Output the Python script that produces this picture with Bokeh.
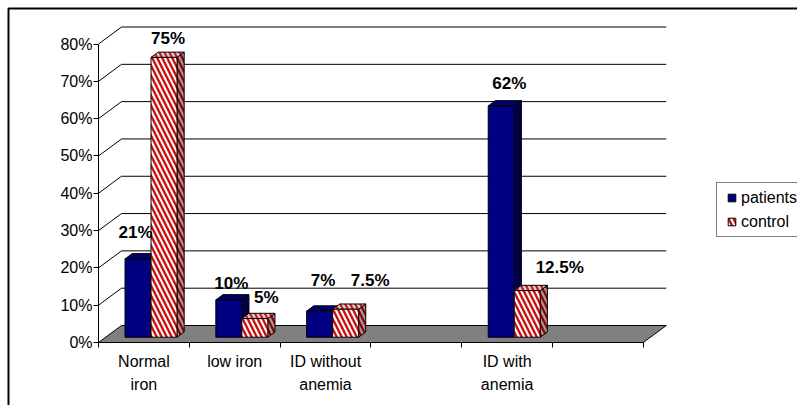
import numpy as np
from bokeh.plotting import figure
from bokeh.models import (Range1d, LinearAxis, FixedTicker, PrintfTickFormatter,
                          ColumnDataSource, Legend, LegendItem)
from bokeh.core.properties import value
from bokeh.embed import file_html
from bokeh.resources import INLINE

# ---- data -------------------------------------------------------------
categories = ["Normal\niron", "low iron", "ID without\nanemia", "", "ID with\nanemia", ""]
patients = [21, 10, 7, None, 62, None]
control = [75, 5, 7.5, None, 12.5, None]
series_names = ["patients", "control"]
y_ticks = [0, 10, 20, 30, 40, 50, 60, 70, 80]

# label nudges in screen pixels (dx, dy), one per bar
patients_nudge = [(-2.5, -26.7), (2.5, -16.4), (3.5, -30.6), None, (8, -22), None]
control_nudge = [(4, -19), (11.5, -21.3), (24.5, -28.7), None, (32.5, -23.3), None]

# ---- geometry (screen scale) -----------------------------------------
W, H = 797, 405
X0_PX, Y0_PX = 98.0, 342.0        # front-left corner of the floor
CAT_PX, PCT_PX = 90.8, 3.731      # px per category / px per percent
FONT = "Liberation Sans"

def sx(px):
    return px / CAT_PX

def sy(px):
    return px / PCT_PX

n_cat = len(categories)
FD_X, FD_Y = sx(23), sy(17)        # floor depth
D0, D1 = 0.31, 0.62                # bar depth span (fraction of floor depth)
BAR_W = sx(26)

p = figure(width=W, height=H,
           x_range=Range1d(-X0_PX / CAT_PX, (W - X0_PX) / CAT_PX),
           y_range=Range1d(-(H - Y0_PX) / PCT_PX, Y0_PX / PCT_PX),
           output_backend="svg", toolbar_location=None,
           x_axis_type=None, y_axis_type=None, min_border=0)
p.outline_line_color = None
p.background_fill_color = "white"
p.border_fill_color = "white"

# chart-area border
bx = [sx(8 - X0_PX), sx(8 - X0_PX), sx(W + 10 - X0_PX)]
by = [sy(Y0_PX - H - 10), sy(Y0_PX - 8), sy(Y0_PX - 8)]
p.line(bx, by, line_color="black", line_width=2)

# floor
p.patch([0, n_cat, n_cat + FD_X, FD_X], [0, 0, FD_Y, FD_Y],
        fill_color="#808080", line_color="black", line_width=1)

# back-wall gridlines with side-wall connectors
gx, gy = [], []
for t in y_ticks[1:]:
    gx.append([0, FD_X, n_cat + FD_X])
    gy.append([t, t + FD_Y, t + FD_Y])
p.multi_line(gx, gy, line_color="black", line_width=1)

# axes
yaxis = LinearAxis(fixed_location=0, bounds=(0, 80),
                   ticker=FixedTicker(ticks=y_ticks),
                   formatter=PrintfTickFormatter(format="%d%%"),
                   major_tick_out=5, major_tick_in=0, minor_tick_out=0, minor_tick_in=0,
                   major_label_standoff=1,
                   axis_line_color="black", major_tick_line_color="black",
                   major_label_text_font=FONT, major_label_text_font_size="16px",
                   major_label_text_color="black")
p.add_layout(yaxis, "left")

xaxis = LinearAxis(fixed_location=0, bounds=(0, n_cat),
                   ticker=FixedTicker(ticks=list(range(n_cat + 1))),
                   major_tick_out=5, major_tick_in=0, minor_tick_out=0, minor_tick_in=0,
                   axis_line_color="black", major_tick_line_color="black",
                   major_label_text_color=None)
p.add_layout(xaxis, "below")

# category labels
p.text(x=[i + 0.5 for i in range(n_cat)], y=[0] * n_cat, text=categories,
       y_offset=10, text_align="center", text_baseline="top",
       text_font=value(FONT), text_font_size=value("16px"),
       text_line_height=1.375, text_color="black")

# ---- 3D bars ----------------------------------------------------------
s0, s1 = D0 * FD_X, D1 * FD_X
b0, b1 = D0 * FD_Y, D1 * FD_Y
ddx, ddy = s1 - s0, b1 - b0


def bar_faces(vals, side):
    idx = [i for i, v in enumerate(vals) if v is not None]
    v = np.array([vals[i] for i in idx], dtype=float)
    c = np.array([i + 0.5 + s0 for i in idx])
    left = c - BAR_W if side == 0 else c
    right = left + BAR_W
    top = b0 + v
    side_xs = [[r, r + ddx, r + ddx, r] for r in right]
    side_ys = [[b0, b0 + ddy, t + ddy, t] for t in top]
    top_xs = [[l, r, r + ddx, l + ddx] for l, r in zip(left, right)]
    top_ys = [[t, t, t + ddy, t + ddy] for t in top]
    return idx, v, left, right, top, side_xs, side_ys, top_xs, top_ys


HATCH = dict(hatch_pattern="left_diagonal_line", hatch_scale=10)
NAVY = "#000080"

# patients (solid navy)
idx_p, v_p, l_p, r_p, t_p, sxs_p, sys_p, txs_p, tys_p = bar_faces(patients, 0)
p.patches(sxs_p, sys_p, fill_color="#00004A", line_color="black", line_width=1)
p.patches(txs_p, tys_p, fill_color="#00006E", line_color="black", line_width=1)
p.quad(left=l_p, right=r_p, bottom=b0, top=t_p,
       fill_color=NAVY, line_color="black", line_width=1)

# control (red hatched)
idx_c, v_c, l_c, r_c, t_c, sxs_c, sys_c, txs_c, tys_c = bar_faces(control, 1)
p.patches(sxs_c, sys_c, fill_color="#A89494", line_color="black", line_width=1,
          hatch_color="#8B0000", hatch_weight=2.2, **HATCH)
p.patches(txs_c, tys_c, fill_color="#E4CCCC", line_color="black", line_width=1,
          hatch_color="#C02020", hatch_weight=2.2, **HATCH)
p.quad(left=l_c, right=r_c, bottom=b0, top=t_c,
       fill_color="white", line_color="black", line_width=1,
       hatch_color="#CC1111", hatch_weight=2.4, **HATCH)

# value labels
def label_source(vals, idx, left, top, nudge):
    return ColumnDataSource(dict(
        x=list(left + BAR_W / 2), y=list(top),
        text=[f"{vals[i]:g}%" for i in idx],
        dx=[nudge[i][0] for i in idx], dy=[nudge[i][1] for i in idx]))


for src in (label_source(patients, idx_p, l_p, t_p, patients_nudge),
            label_source(control, idx_c, l_c, t_c, control_nudge)):
    p.text(x="x", y="y", text="text", x_offset="dx", y_offset="dy", source=src,
           text_align="center", text_baseline="middle",
           text_font=value(FONT), text_font_style="bold",
           text_font_size=value("17px"), text_color="black")

# legend keys: small square swatches (no plotted points of their own)
nan = np.array([np.nan])
key_p = p.scatter(x=nan, y=nan, marker="square", fill_color=NAVY, line_color="black",
                  line_width=1)
key_c = p.scatter(x=nan, y=nan, marker="square", fill_color="white", line_color="black",
                  line_width=1, hatch_color="#CC1111", hatch_weight=2.4, **HATCH)

legend = Legend(items=[LegendItem(label=series_names[0], renderers=[key_p]),
                       LegendItem(label=series_names[1], renderers=[key_c])],
                location=(716, 168), orientation="vertical",
                glyph_width=19, glyph_height=19, label_height=19, label_standoff=0,
                spacing=5, padding=5, margin=0,
                border_line_color="black", border_line_width=1,
                background_fill_color="white", background_fill_alpha=1,
                label_text_font=FONT, label_text_font_size="16px",
                label_text_color="black")
p.add_layout(legend)

open("out.html", "w").write(file_html(p, INLINE))
